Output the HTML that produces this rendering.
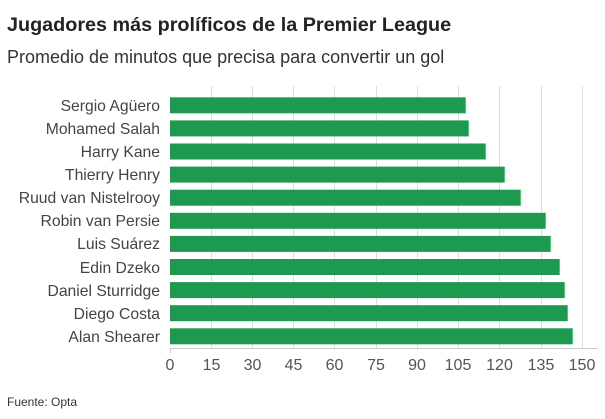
<!DOCTYPE html>
<html><head><meta charset="utf-8"><style>
body{margin:0;width:605px;height:419px;background:#fff;font-family:"Liberation Sans",sans-serif;position:relative;overflow:hidden}
.t{position:absolute;left:7px;top:14px;font-size:19.8px;font-weight:bold;color:#222;white-space:nowrap}
.s{position:absolute;left:7px;top:47px;font-size:18px;color:#333;white-space:nowrap}
.f{position:absolute;left:7px;top:395px;font-size:12px;color:#333}
</style></head><body>
<div class="t">Jugadores más prolíficos de la Premier League</div>
<div class="s">Promedio de minutos que precisa para convertir un gol</div>
<svg width="605" height="419" style="position:absolute;left:0;top:0" font-family="Liberation Sans, sans-serif">
<g stroke="#ddd" stroke-width="1">
<line x1="211.5" y1="86" x2="211.5" y2="348"/><line x1="252.5" y1="86" x2="252.5" y2="348"/><line x1="293.5" y1="86" x2="293.5" y2="348"/><line x1="334.5" y1="86" x2="334.5" y2="348"/><line x1="376.5" y1="86" x2="376.5" y2="348"/><line x1="417.5" y1="86" x2="417.5" y2="348"/><line x1="458.5" y1="86" x2="458.5" y2="348"/><line x1="499.5" y1="86" x2="499.5" y2="348"/><line x1="541.5" y1="86" x2="541.5" y2="348"/><line x1="582.5" y1="86" x2="582.5" y2="348"/>
<line x1="170" y1="348.5" x2="598" y2="348.5" stroke="#ccc"/>
<line x1="170.5" y1="348" x2="170.5" y2="353" stroke="#ccc"/>
</g>
<g fill="#1e9a50">
<rect x="170" y="97.3" width="295.7" height="16"/>
<rect x="170" y="120.4" width="298.7" height="16"/>
<rect x="170" y="143.5" width="315.7" height="16"/>
<rect x="170" y="166.6" width="334.7" height="16"/>
<rect x="170" y="189.7" width="350.7" height="16"/>
<rect x="170" y="212.8" width="375.7" height="16"/>
<rect x="170" y="235.9" width="380.7" height="16"/>
<rect x="170" y="259" width="389.7" height="16"/>
<rect x="170" y="282.1" width="394.7" height="16"/>
<rect x="170" y="305.2" width="397.7" height="16"/>
<rect x="170" y="328.3" width="402.7" height="16"/>
</g>
<g font-size="15.7" fill="#444" text-anchor="end">
<text x="160" y="111">Sergio Agüero</text>
<text x="160" y="134">Mohamed Salah</text>
<text x="160" y="157">Harry Kane</text>
<text x="160" y="180">Thierry Henry</text>
<text x="160" y="203">Ruud van Nistelrooy</text>
<text x="160" y="226">Robin van Persie</text>
<text x="160" y="249">Luis Suárez</text>
<text x="160" y="273">Edin Dzeko</text>
<text x="160" y="296">Daniel Sturridge</text>
<text x="160" y="319">Diego Costa</text>
<text x="160" y="342">Alan Shearer</text>
</g>
<g font-size="16" fill="#555" text-anchor="middle">
<text x="170" y="370">0</text><text x="211.5" y="370">15</text><text x="252.5" y="370">30</text><text x="293.5" y="370">45</text><text x="334.5" y="370">60</text><text x="376" y="370">75</text><text x="417" y="370">90</text><text x="458" y="370">105</text><text x="499.5" y="370">120</text><text x="541" y="370">135</text><text x="582" y="370">150</text>
</g>
</svg>
<div class="f">Fuente: Opta</div>
</body></html>
